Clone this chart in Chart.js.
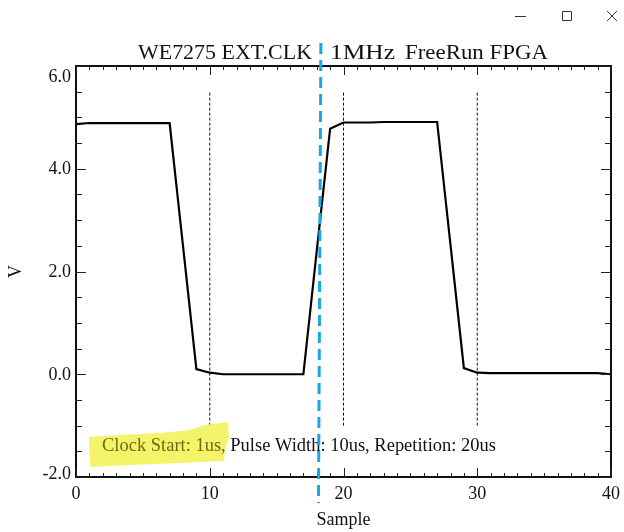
<!DOCTYPE html>
<html>
<head>
<meta charset="utf-8">
<script src="https://cdn.jsdelivr.net/npm/chart.js@4/dist/chart.umd.min.js"></script>
<style>
html,body{margin:0;padding:0;background:#fff;overflow:hidden;}
#wrap{width:624px;height:532px;position:relative;}
canvas{display:block;}
</style>
</head>
<body>
<div id="wrap"><canvas id="c" width="624" height="532"></canvas></div>
<script>
// ---- data ----
const samples = [0,1,2,3,4,5,6,7,8,9,10,11,12,13,14,15,16,17,18,19,20,21,22,23,24,25,26,27,28,29,30,31,32,33,34,35,36,37,38,39,40];
const voltage = [4.87,4.89,4.89,4.89,4.89,4.89,4.89,4.89,2.50,0.10,0.03,0.00,0.00,0.00,0.00,0.00,0.00,0.00,2.40,4.78,4.90,4.90,4.90,4.91,4.91,4.91,4.91,4.91,2.52,0.12,0.03,0.02,0.02,0.02,0.02,0.02,0.02,0.02,0.02,0.02,0.00];
const markerSamples = [10, 20, 30];
const markerRange = [-1.0, 5.5];
const cursorSampleTop = 18.31;
const cursorSampleBottom = 18.13;
const xTickLabels = [0, 10, 20, 30, 40];
const yTickLabels = [-2, 0, 2, 4, 6];
const titleParts = ["WE7275 EXT.CLK", "1MHz", "FreeRun FPGA"];
const noteHighlighted = "Clock Start: 1us,";
const noteRest = " Pulse Width: 10us, Repetition: 20us";
const xLabel = "Sample";
const yLabel = "V";

const SERIF = '"Liberation Serif", "Times New Roman", serif';

const datasets = [{
  data: samples.map((s, i) => ({x: s, y: voltage[i]})),
  borderColor: '#000',
  borderWidth: 2.2,
  pointRadius: 0,
  tension: 0,
  fill: false
}];
markerSamples.forEach(m => {
  datasets.push({
    data: [{x: m, y: markerRange[0]}, {x: m, y: markerRange[1]}],
    borderColor: '#111',
    borderWidth: 1,
    borderDash: [3, 2],
    pointRadius: 0,
    fill: false
  });
});

function fitText(ctx, parts, left, width, baseline, size) {
  ctx.font = size + 'px ' + SERIF;
  let total = 0;
  parts.forEach(p => total += ctx.measureText(p.text).width);
  const k = width / total;
  ctx.save();
  ctx.translate(left, baseline);
  ctx.scale(k, 1);
  ctx.textAlign = 'left';
  ctx.textBaseline = 'alphabetic';
  let x = 0;
  parts.forEach(p => {
    ctx.fillStyle = p.color;
    ctx.fillText(p.text, x, 0);
    x += ctx.measureText(p.text).width;
  });
  ctx.restore();
}

const decor = {
  id: 'decor',
  afterDraw(chart) {
    const ctx = chart.ctx;
    const a = chart.chartArea;
    const xs = chart.scales.x, ys = chart.scales.y;
    ctx.save();

    // frame
    ctx.strokeStyle = '#111';
    ctx.lineWidth = 2;
    ctx.strokeRect(a.left, a.top, a.right - a.left, a.bottom - a.top);

    // inward ticks
    ctx.lineWidth = 1;
    ctx.strokeStyle = '#222';
    ctx.beginPath();
    for (let v = xs.min; v <= xs.max + 1e-9; v += 1) {
      const px = Math.round(xs.getPixelForValue(v)) + 0.5;
      const len = (Math.round(v) % 10 === 0) ? 9 : 4;
      ctx.moveTo(px, a.bottom); ctx.lineTo(px, a.bottom - len);
      ctx.moveTo(px, a.top); ctx.lineTo(px, a.top + len);
    }
    for (let v = ys.min; v <= ys.max + 1e-9; v += 0.5) {
      const py = Math.round(ys.getPixelForValue(v)) + 0.5;
      const major = Math.abs(v / 2 - Math.round(v / 2)) < 1e-6;
      const len = major ? 10 : 6;
      ctx.moveTo(a.left, py); ctx.lineTo(a.left + len, py);
      ctx.moveTo(a.right, py); ctx.lineTo(a.right - len, py);
    }
    ctx.stroke();

    // tick labels
    ctx.fillStyle = '#111';
    ctx.font = '18px ' + SERIF;
    ctx.textAlign = 'center';
    ctx.textBaseline = 'alphabetic';
    xTickLabels.forEach(v => ctx.fillText(String(v), xs.getPixelForValue(v), a.bottom + 22));
    ctx.textAlign = 'right';
    ctx.textBaseline = 'middle';
    yTickLabels.forEach(v => {
      let py = ys.getPixelForValue(v);
      if (v === ys.max) py += 10;
      if (v === ys.min) py -= 4;
      ctx.fillText(v.toFixed(1), a.left - 5, py + 1);
    });

    // axis titles
    ctx.textAlign = 'center';
    ctx.textBaseline = 'alphabetic';
    ctx.fillText(xLabel, (a.left + a.right) / 2, 525);
    ctx.save();
    ctx.translate(21, (a.top + a.bottom) / 2);
    ctx.rotate(-Math.PI / 2);
    ctx.textBaseline = 'alphabetic';
    ctx.fillText(yLabel, 0, 0);
    ctx.restore();

    // title (three pieces)
    fitText(ctx, [{text: titleParts[0], color: '#111'}], 138, 174, 59, 22);
    fitText(ctx, [{text: titleParts[1], color: '#111'}], 330, 65, 59, 22);
    fitText(ctx, [{text: titleParts[2], color: '#111'}], 405, 143, 59, 22);

    // highlight blob
    ctx.fillStyle = '#f4f46a';
    ctx.beginPath();
    const hl = [[89,437],[120,435],[160,433],[190,430],[205,425],[228,422],[229,438],[225,450],[224,461],[180,463],[130,465],[90,467]];
    hl.forEach((p, i) => i ? ctx.lineTo(p[0], p[1]) : ctx.moveTo(p[0], p[1]));
    ctx.closePath();
    ctx.fill();

    // annotation
    fitText(ctx, [{text: noteHighlighted, color: '#6f6c14'}, {text: noteRest, color: '#111'}], 102, 394, 451, 18);

    // blue cursor
    ctx.strokeStyle = '#19a6e8';
    ctx.lineWidth = 3;
    ctx.setLineDash([11, 6]);
    ctx.beginPath();
    ctx.moveTo(xs.getPixelForValue(cursorSampleTop), 43);
    ctx.lineTo(xs.getPixelForValue(cursorSampleBottom), 503);
    ctx.stroke();
    ctx.setLineDash([]);

    // window controls
    ctx.strokeStyle = '#333';
    ctx.lineWidth = 1;
    ctx.beginPath();
    ctx.moveTo(515, 16.5); ctx.lineTo(526, 16.5);
    ctx.rect(562.5, 11.5, 9, 9);
    ctx.moveTo(607, 11); ctx.lineTo(617, 21);
    ctx.moveTo(617, 11); ctx.lineTo(607, 21);
    ctx.stroke();

    ctx.restore();
  }
};

new Chart(document.getElementById('c'), {
  type: 'line',
  data: {datasets},
  options: {
    responsive: false,
    devicePixelRatio: 1,
    animation: false,
    layout: {padding: {top: 66, right: 13, left: 0, bottom: 0}},
    plugins: {legend: {display: false}, title: {display: false}, tooltip: {enabled: false}},
    scales: {
      x: {
        type: 'linear', min: 0, max: 40,
        grid: {display: false, drawTicks: false},
        border: {display: false},
        ticks: {display: false, stepSize: 10},
        afterFit: s => { s.height = 55; }
      },
      y: {
        type: 'linear', min: -2, max: 6,
        grid: {display: false, drawTicks: false},
        border: {display: false},
        ticks: {display: false, stepSize: 2},
        afterFit: s => { s.width = 76; }
      }
    }
  },
  plugins: [decor]
});
</script>
</body>
</html>
